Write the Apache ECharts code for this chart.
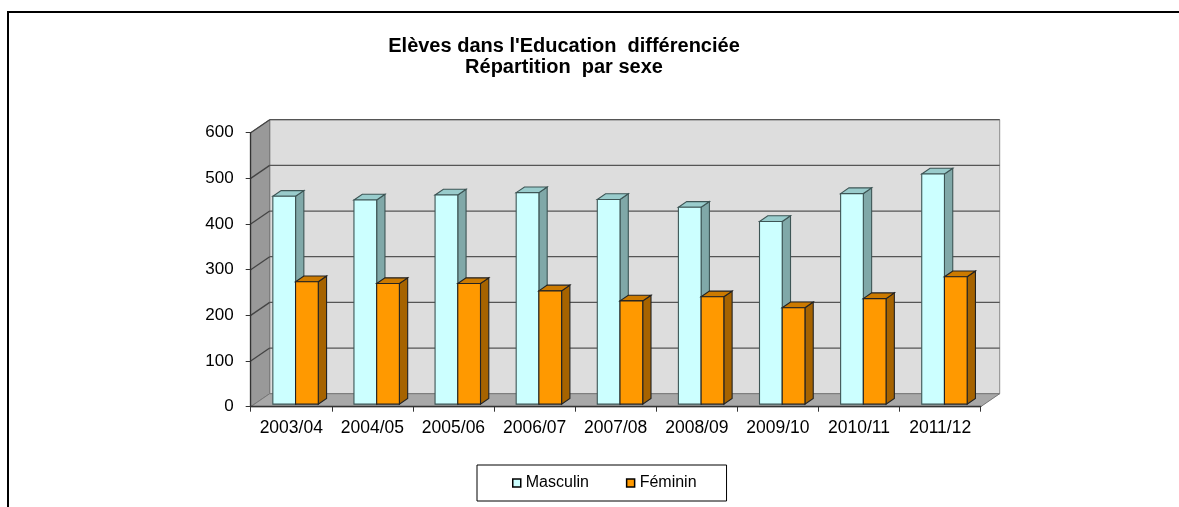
<!DOCTYPE html>
<html>
<head>
<meta charset="utf-8">
<script src="https://cdn.jsdelivr.net/npm/echarts@6/dist/echarts.min.js"></script>
<style>
  html, body { margin: 0; padding: 0; background: #fff; }
  #main { width: 1179px; height: 507px; }
</style>
</head>
<body>
<div id="main"></div>
<script>
var categories = ['2003/04', '2004/05', '2005/06', '2006/07', '2007/08', '2008/09', '2009/10', '2010/11', '2011/12'];
var masculin = [455, 447, 458, 463, 448, 431, 400, 461, 504];
var feminin = [268, 264, 264, 248, 226, 235, 211, 231, 279];
var yTicks = [0, 100, 200, 300, 400, 500, 600];

var myChart = echarts.init(document.getElementById('main'));

// profondeur du "3D" (en px)
var DX = 19, DY = -13;
var BDX = 8.3, BDY = -5.7;
var FONT = '"Liberation Sans", Arial, sans-serif';

function renderWalls(params, api) {
    var cs = params.coordSys;
    var x = cs.x, y = cs.y, w = cs.width, h = cs.height;
    var kids = [];
    // mur du fond
    kids.push({ type: 'rect', shape: { x: x + DX, y: y + DY, width: w, height: h },
        style: { fill: '#dddddd', stroke: '#8a8a8a', lineWidth: 1 } });
    // mur gauche
    kids.push({ type: 'polygon', shape: { points: [[x, y + h], [x, y], [x + DX, y + DY], [x + DX, y + h + DY]] },
        style: { fill: '#999999', stroke: '#777', lineWidth: 1 } });
    // sol
    kids.push({ type: 'polygon', shape: { points: [[x, y + h], [x + w, y + h], [x + w + DX, y + h + DY], [x + DX, y + h + DY]] },
        style: { fill: '#a8a8a8', stroke: '#777', lineWidth: 1 } });
    // quadrillage
    yTicks.forEach(function (v) {
        if (v === 0) return;
        var yy = api.coord([0, v])[1];
        kids.push({ type: 'line', shape: { x1: x + DX, y1: yy + DY, x2: x + w + DX, y2: yy + DY },
            style: { stroke: '#555', lineWidth: 1.3 } });
        kids.push({ type: 'line', shape: { x1: x, y1: yy, x2: x + DX, y2: yy + DY },
            style: { stroke: '#444', lineWidth: 1.3 } });
    });
    return { type: 'group', children: kids };
}

function barRenderer(offset, front, side, top, edge) {
    return function (params, api) {
        var cat = api.value(0), val = api.value(1);
        var pTop = api.coord([cat, val]);
        var pBase = api.coord([cat, 0]);
        var band = api.size([1, 0])[0];
        var x0 = pBase[0] + offset * band;
        var x1 = x0 + 0.28 * band;
        var yb = pBase[1] - 2.6, yt = pTop[1] - 2.6;
        var st = function (c) { return { fill: c, stroke: edge, lineWidth: 1.1 }; };
        return {
            type: 'group',
            children: [
                { type: 'polygon', shape: { points: [[x1, yb], [x1, yt], [x1 + BDX, yt + BDY], [x1 + BDX, yb + BDY]] }, style: st(side) },
                { type: 'polygon', shape: { points: [[x0, yt], [x1, yt], [x1 + BDX, yt + BDY], [x0 + BDX, yt + BDY]] }, style: st(top) },
                { type: 'rect', shape: { x: x0, y: yt, width: x1 - x0, height: yb - yt }, style: st(front) }
            ]
        };
    };
}

var option = {
    backgroundColor: '#fff',
    animation: false,
    title: {
        text: "Elèves dans l'Education  différenciée\nRépartition  par sexe",
        left: 559,
        top: 31,
        textAlign: 'center',
        textStyle: { fontFamily: FONT, fontSize: 20, fontWeight: 'bold', color: '#000', lineHeight: 21 }
    },
    graphic: [{
        type: 'rect', silent: true,
        shape: { x: 8, y: 12, width: 1300, height: 600 },
        style: { fill: 'none', stroke: '#000', lineWidth: 2 }
    }],
    legend: {
        data: ['Masculin', 'Féminin'],
        left: 477,
        top: 465,
        orient: 'horizontal',
        icon: 'rect',
        itemWidth: 8,
        itemHeight: 8,
        itemGap: 37,
        padding: [10, 30, 10, 35],
        backgroundColor: '#fff',
        borderColor: '#000',
        borderWidth: 1,
        borderRadius: 0,
        itemStyle: { borderColor: '#000', borderWidth: 1.5 },
        textStyle: { fontFamily: FONT, fontSize: 16, color: '#000' },
        selectedMode: false
    },
    grid: {
        left: 250.7,
        right: 198.3,
        top: 132.7,
        bottom: 100.3,
        containLabel: false
    },
    xAxis: {
        type: 'category',
        data: categories,
        boundaryGap: true,
        axisLine: { show: true, lineStyle: { color: '#333', width: 1.3 } },
        axisTick: { show: true, length: 5, lineStyle: { color: '#333' } },
        axisLabel: { fontFamily: FONT, fontSize: 17.5, color: '#000', margin: 12, interval: 0, hideOverlap: false },
        z: 5
    },
    yAxis: {
        type: 'value',
        min: 0,
        max: 600,
        interval: 100,
        axisLine: { show: true, lineStyle: { color: '#333', width: 1.3 } },
        axisTick: { show: true, length: 5, lineStyle: { color: '#333' } },
        axisLabel: { fontFamily: FONT, fontSize: 17, color: '#000', margin: 17 },
        splitLine: { show: false },
        z: 5
    },
    series: [
        {
            name: 'walls',
            type: 'custom',
            silent: true,
            z: -1,
            renderItem: renderWalls,
            data: [[0, 0]]
        },
        {
            name: 'Masculin',
            type: 'custom',
            itemStyle: { color: '#ccffff' },
            renderItem: barRenderer(-0.227, '#ccffff', '#80a8a8', '#99cccc', '#3d5555'),
            encode: { x: 0, y: 1 },
            data: masculin.map(function (v, i) { return [i, v]; })
        },
        {
            name: 'Féminin',
            type: 'custom',
            itemStyle: { color: '#ff9900' },
            renderItem: barRenderer(0.053, '#ff9900', '#a66300', '#cc7a00', '#222'),
            encode: { x: 0, y: 1 },
            data: feminin.map(function (v, i) { return [i, v]; })
        }
    ]
};

myChart.setOption(option);
</script>
</body>
</html>
